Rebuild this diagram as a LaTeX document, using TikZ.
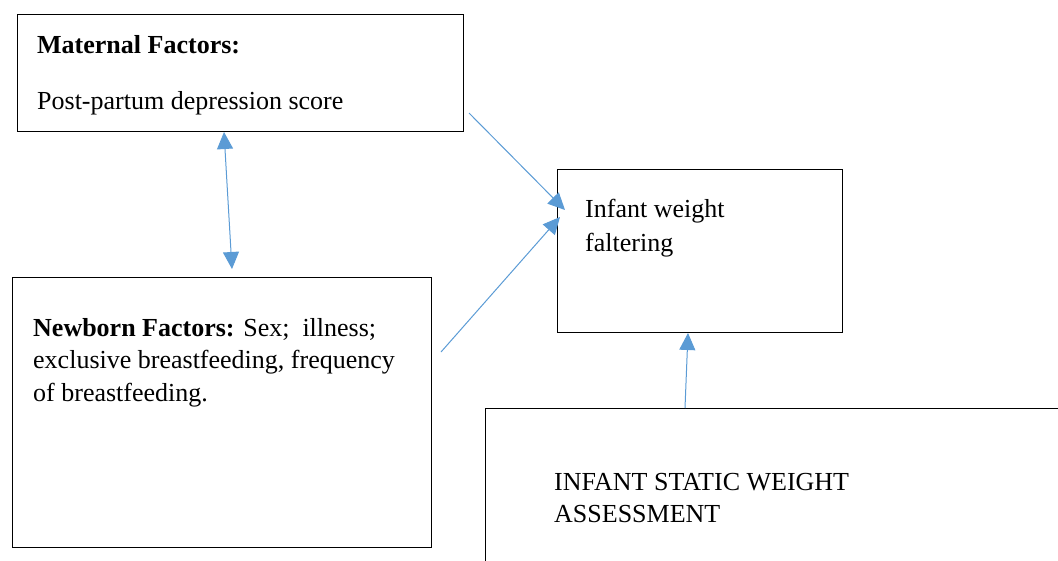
\documentclass[tikz,border=0pt]{standalone}
\usepackage{fontspec}
\setmainfont{Liberation Serif}
\usetikzlibrary{arrows.meta}
\definecolor{arrowblue}{HTML}{5B9BD5}
\begin{document}
\begin{tikzpicture}[x=1pt,y=-1pt,
  box/.style={draw=black,line width=1.1pt,rectangle,anchor=north west,inner sep=0pt},
  lbl/.style={anchor=base west,inner sep=0pt,font=\fontsize{26}{34}\selectfont},
  conn/.style={draw=arrowblue,line width=1pt,-{Triangle[length=17pt,width=16pt]}},
  dconn/.style={draw=arrowblue,line width=1pt,{Triangle[length=17pt,width=16pt]}-{Triangle[length=17pt,width=16pt]}}]
\clip (0,0) rectangle (1058,560);
\useasboundingbox (0,0) rectangle (1058,560);
% boxes
\node[box,minimum width=446pt,minimum height=117pt] (mat) at (17,14) {};
\node[box,minimum width=419pt,minimum height=270pt] (new) at (12,277) {};
\node[box,minimum width=285pt,minimum height=163pt] (inf) at (557,169) {};
\node[box,minimum width=620pt,minimum height=200pt] (sta) at (485,408) {};
% texts
\node[lbl] (matT) at (37,53) {\textbf{Maternal Factors:}};
\node[lbl] (matS) at (37,109) {Post-partum depression score};
\node[lbl] (infA) at (585,217) {Infant weight};
\node[lbl] (infB) at (585,251) {faltering};
\node[lbl] (newA) at (33,336) {\textbf{Newborn Factors:} Sex;\ \ illness;};
\node[lbl] (newB) at (33,368) {exclusive breastfeeding, frequency};
\node[lbl] (newC) at (33,401) {of breastfeeding.};
\node[lbl] (staA) at (554,490) {INFANT STATIC WEIGHT};
\node[lbl] (staB) at (554,522) {ASSESSMENT};
% connector end points
\coordinate (d1) at (224,132);
\coordinate (d2) at (232,269);
\coordinate (a1s) at (469,113);
\coordinate (a1e) at (565,210);
\coordinate (a2s) at (441,352);
\coordinate (a2e) at (560,217);
\coordinate (a3s) at (685,408);
\coordinate (a3e) at (688,333);
\draw[dconn] (d1) -- (d2);
\draw[conn] (a1s) -- (a1e);
\draw[conn] (a2s) -- (a2e);
\draw[conn] (a3s) -- (a3e);
\end{tikzpicture}
\end{document}
